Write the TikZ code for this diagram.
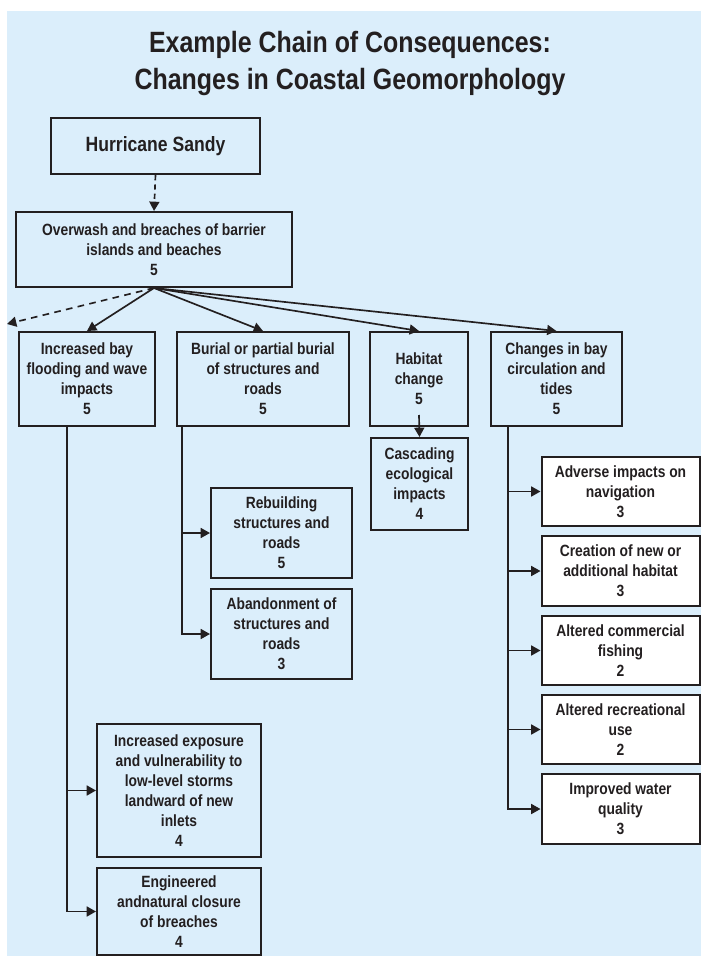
\documentclass[tikz,border=0pt]{standalone}
\usepackage{fontspec}
\setmainfont{Liberation Sans}[FakeStretch=0.85]
\usetikzlibrary{arrows.meta}

\definecolor{bgblue}{RGB}{219,238,251}
\definecolor{ink}{RGB}{35,31,32}

\tikzset{
  box/.style={draw=ink, line width=1.5pt, fill=bgblue, inner sep=0pt, align=center,
    font=\bfseries\fontsize{12.2}{15}\selectfont, text=ink},
  rowbox/.style={box, minimum height=70.5pt},
  sidebox/.style={box, fill=white, minimum width=118.5pt, minimum height=52pt},
  link/.style={->, draw=ink, line width=1.25pt},
}

\begin{document}
\begin{tikzpicture}[x=0.75pt,y=-0.75pt,>={Triangle[length=7pt,width=7.5pt]}]
  \useasboundingbox (0,0) rectangle (701,956);
  \fill[bgblue] (7,11) rectangle (701,956);

  \node[font=\bfseries\fontsize{22}{27.75}\selectfont, text=ink, align=center] (title) at (350,63)
    {Example Chain of Consequences:\\Changes in Coastal Geomorphology};

  \node[box, minimum width=156.75pt, minimum height=42pt, font=\bfseries\fontsize{15.5}{18}\selectfont]
    (sandy) at (155.5,146) {Hurricane Sandy};
  \node[box, minimum width=207pt, minimum height=56.25pt] (overwash) at (154,249.5)
    {Overwash and breaches of barrier\\islands and beaches\\5};

  % second row
  \node[rowbox, minimum width=102pt] (incbay) at (87,379)
    {Increased bay\\flooding and wave\\impacts\\5};
  \node[rowbox, minimum width=129pt] (burial) at (263,379)
    {Burial or partial burial\\of structures and\\roads\\5};
  \node[rowbox, minimum width=73.5pt] (habitat) at (419,379)
    {Habitat\\change\\5};
  \node[rowbox, minimum width=98.25pt] (baycirc) at (556.5,379)
    {Changes in bay\\circulation and\\tides\\5};

  \node[box, minimum width=72.75pt, minimum height=69pt] (cascade) at (419.5,484)
    {Cascading\\ecological\\impacts\\4};
  \node[box, minimum width=105.75pt, minimum height=67.5pt] (rebuild) at (281.5,533)
    {Rebuilding\\structures and\\roads\\5};
  \node[box, minimum width=105.75pt, minimum height=67.5pt] (abandon) at (281.5,634)
    {Abandonment of\\structures and\\roads\\3};
  \node[box, minimum width=123pt, minimum height=99.75pt] (exposure) at (179,790.5)
    {Increased exposure\\and vulnerability to\\low-level storms\\landward of new\\inlets\\4};
  \node[box, minimum width=123pt, minimum height=65.25pt] (closure) at (179,911.5)
    {Engineered\\andnatural closure\\of breaches\\4};

  % right column
  \node[sidebox] (navig) at (620.5,491.5) {Adverse impacts on\\navigation\\3};
  \node[sidebox] (newhab) at (620.5,571) {Creation of new or\\additional habitat\\3};
  \node[sidebox] (fishing) at (620.5,650.5) {Altered commercial\\fishing\\2};
  \node[sidebox] (recre) at (620.5,729.5) {Altered recreational\\use\\2};
  \node[sidebox] (water) at (620.5,809) {Improved water\\quality\\3};

  \coordinate (offpage) at (7,324);

  \draw[link, dash pattern=on 4pt off 3pt] (sandy.south) -- (overwash.north);
  \draw[link, dash pattern=on 5pt off 4pt] (overwash.south) -- (offpage);
  \draw[link] (overwash.south) -- (incbay.north);
  \draw[link] (overwash.south) -- (burial.north);
  \draw[link] (overwash.south) -- (habitat.north);
  \draw[link] (overwash.south) -- (baycirc.north);

  \draw[link] ([yshift=9pt]habitat.south) -- (cascade.north);
  \draw[link] ([xshift=4.5pt]burial.south west) |- (rebuild.west);
  \draw[link] ([xshift=4.5pt]burial.south west) |- (abandon.west);
  \draw[link] ([xshift=-15pt]incbay.south) |- (exposure.west);
  \draw[link] ([xshift=-15pt]incbay.south) |- (closure.west);
  \foreach \n in {navig,newhab,fishing,recre,water}
    \draw[link] ([xshift=13.5pt]baycirc.south west) |- (\n.west);
\end{tikzpicture}
\end{document}
